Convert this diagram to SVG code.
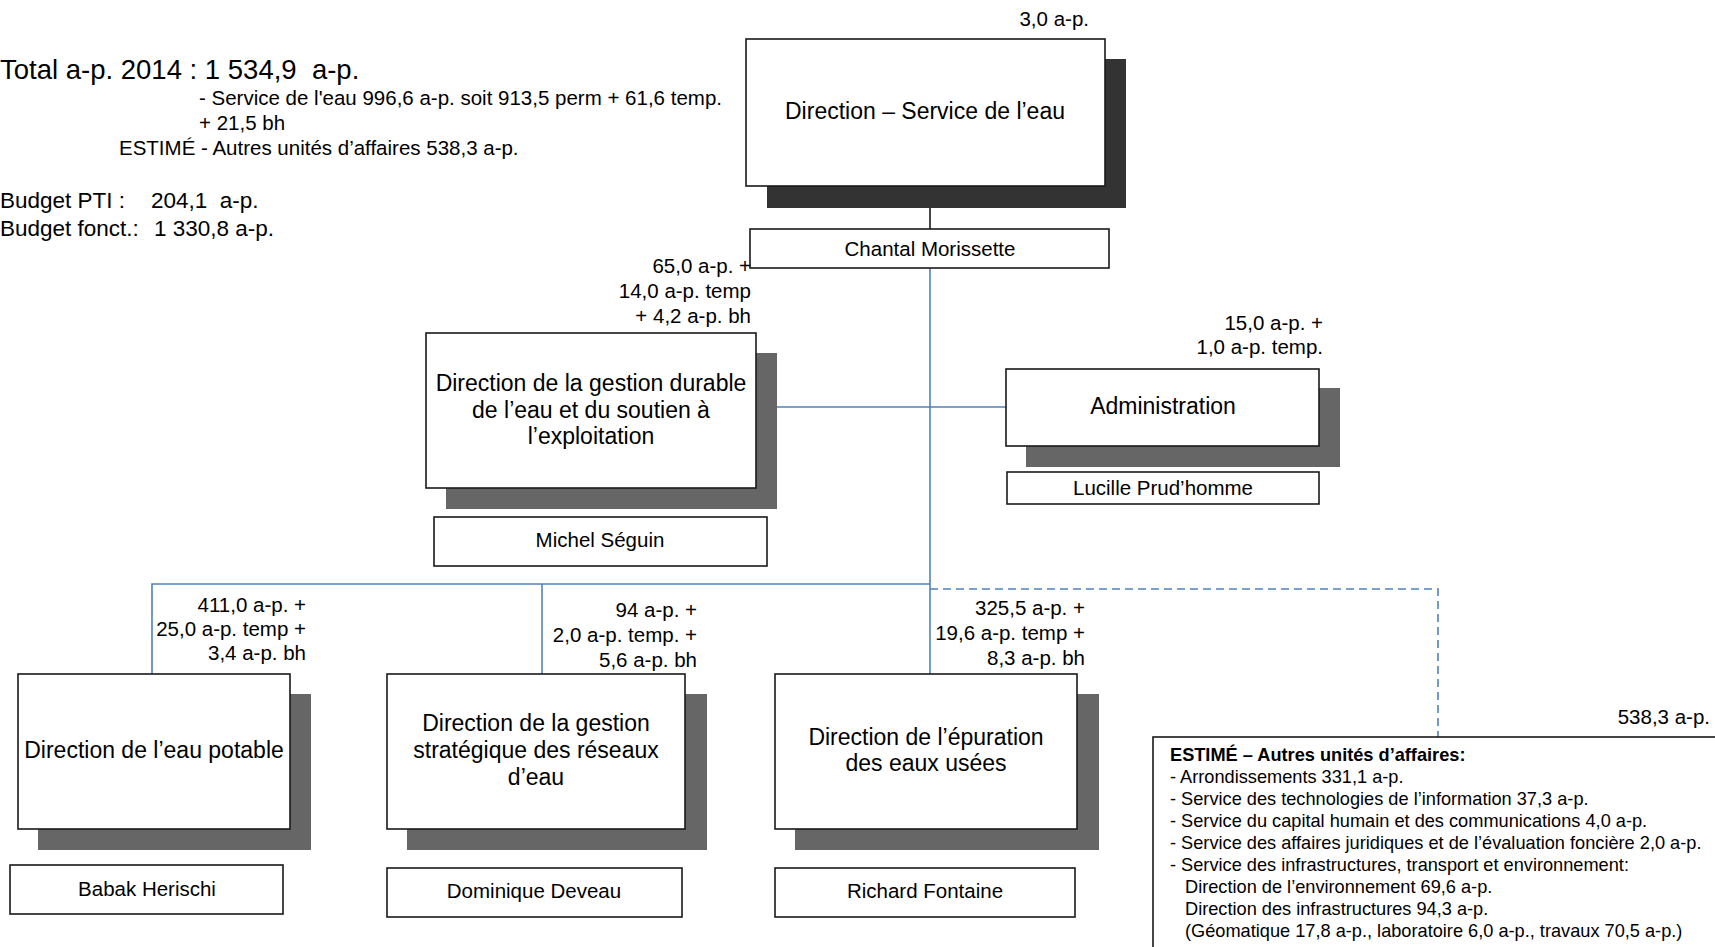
<svg xmlns="http://www.w3.org/2000/svg" width="1715" height="947" viewBox="0 0 1715 947">
<style>
text{font-family:"Liberation Sans",Arial,sans-serif;fill:#000}
.pre{white-space:pre}
.box{fill:#fff;stroke:#1a1a1a;stroke-width:1.6}
.sh{fill:#666}
.shd{fill:#333}
.t{font-size:23px;text-anchor:middle}
.n{font-size:20.5px;text-anchor:middle}
.lb{font-size:20.5px;text-anchor:end}
.s{font-size:20.5px}
.e{font-size:18.2px}
.blue{stroke:#4F81BD;stroke-width:1.6;fill:none}
</style>
<rect width="1715" height="947" fill="#fff"/>
<g id="summary">
<text x="0" y="79" class="pre" style="font-size:27.5px" xml:space="preserve">Total a-p. 2014 : 1 534,9  a-p.</text>
<text x="199" y="105" class="s">- Service de l'eau 996,6 a-p. soit 913,5 perm + 61,6 temp.</text>
<text x="199" y="130" class="s">+ 21,5 bh</text>
<text x="119" y="155" class="s">ESTIMÉ - Autres unités d’affaires 538,3 a-p.</text>
<text x="0" y="208" style="font-size:22.5px">Budget PTI :</text>
<text x="151" y="208" class="pre" style="font-size:22.5px" xml:space="preserve">204,1  a-p.</text>
<text x="0" y="236" style="font-size:22.5px">Budget fonct.:</text>
<text x="154" y="236" style="font-size:22.5px">1 330,8 a-p.</text>
</g>
<g id="connectors">
<line x1="930" y1="208" x2="930" y2="229" stroke="#1a1a1a" stroke-width="1.6"/>
<line class="blue" x1="930" y1="268" x2="930" y2="674"/>
<line class="blue" x1="755" y1="407" x2="1006" y2="407"/>
<polyline class="blue" points="152,674 152,584 930,584"/>
<line class="blue" x1="542" y1="584" x2="542" y2="674"/>
<polyline class="blue" points="930,589 1438,589 1438,737" stroke-dasharray="8 5"/>
</g>
<g id="direction-service-eau">
<text x="1089" y="26" class="lb">3,0 a-p.</text>
<rect class="shd" x="767" y="59" width="359" height="149"/>
<rect class="box" x="746" y="39" width="359" height="147"/>
<text x="925" y="119" class="t">Direction – Service de l’eau</text>
</g>
<g id="chantal">
<rect class="box" x="750" y="229" width="359" height="39"/>
<text x="930" y="256" class="n">Chantal Morissette</text>
</g>
<g id="gestion-durable">
<text x="751" y="273" class="lb">65,0 a-p. +</text>
<text x="751" y="298" class="lb">14,0 a-p. temp</text>
<text x="751" y="323" class="lb">+ 4,2 a-p. bh</text>
<rect class="sh" x="446" y="353" width="331" height="156"/>
<rect class="box" x="426" y="333" width="330" height="155"/>
<text x="591" y="391" class="t">Direction de la gestion durable</text>
<text x="591" y="418" class="t">de l’eau et du soutien à</text>
<text x="591" y="444" class="t">l’exploitation</text>
</g>
<g id="michel">
<rect class="box" x="434" y="517" width="333" height="49"/>
<text x="600" y="547" class="n">Michel Séguin</text>
</g>
<g id="administration">
<text x="1323" y="330" class="lb">15,0 a-p. +</text>
<text x="1323" y="354" class="lb">1,0 a-p. temp.</text>
<rect class="sh" x="1026" y="388" width="314" height="79"/>
<rect class="box" x="1006" y="369" width="313" height="77"/>
<text x="1163" y="414" class="t">Administration</text>
</g>
<g id="lucille">
<rect class="box" x="1007" y="472" width="312" height="32"/>
<text x="1163" y="495" class="n">Lucille Prud’homme</text>
</g>
<g id="eau-potable">
<text x="306" y="612" class="lb">411,0 a-p. +</text>
<text x="306" y="636" class="lb">25,0 a-p. temp +</text>
<text x="306" y="660" class="lb">3,4 a-p. bh</text>
<rect class="sh" x="38" y="694" width="273" height="156"/>
<rect class="box" x="18" y="674" width="272" height="155"/>
<text x="154" y="758" class="t">Direction de l’eau potable</text>
</g>
<g id="babak">
<rect class="box" x="10" y="865" width="273" height="49"/>
<text x="147" y="896" class="n">Babak Herischi</text>
</g>
<g id="gestion-strategique">
<text x="697" y="617" class="lb">94 a-p. +</text>
<text x="697" y="642" class="lb">2,0 a-p. temp. +</text>
<text x="697" y="667" class="lb">5,6 a-p. bh</text>
<rect class="sh" x="407" y="694" width="300" height="156"/>
<rect class="box" x="387" y="674" width="298" height="155"/>
<text x="536" y="731" class="t">Direction de la gestion</text>
<text x="536" y="758" class="t">stratégique des réseaux</text>
<text x="536" y="785" class="t">d’eau</text>
</g>
<g id="dominique">
<rect class="box" x="387" y="868" width="295" height="49"/>
<text x="534" y="898" class="n">Dominique Deveau</text>
</g>
<g id="epuration">
<text x="1085" y="615" class="lb">325,5 a-p. +</text>
<text x="1085" y="640" class="lb">19,6 a-p. temp +</text>
<text x="1085" y="665" class="lb">8,3 a-p. bh</text>
<rect class="sh" x="795" y="694" width="304" height="156"/>
<rect class="box" x="775" y="674" width="302" height="155"/>
<text x="926" y="745" class="t">Direction de l’épuration</text>
<text x="926" y="771" class="t">des eaux usées</text>
</g>
<g id="richard">
<rect class="box" x="775" y="868" width="300" height="49"/>
<text x="925" y="898" class="n">Richard Fontaine</text>
</g>
<g id="autres-unites">
<text x="1710" y="724" class="lb">538,3 a-p.</text>
<rect class="box" x="1153" y="737" width="580" height="230"/>
<text x="1170" y="761" class="e" style="font-weight:bold">ESTIMÉ – Autres unités d’affaires:</text>
<text x="1170" y="783" class="e">- Arrondissements 331,1 a-p.</text>
<text x="1170" y="805" class="e">- Service des technologies de l’information 37,3 a-p.</text>
<text x="1170" y="827" class="e">- Service du capital humain et des communications 4,0 a-p.</text>
<text x="1170" y="849" class="e">- Service des affaires juridiques et de l’évaluation foncière 2,0 a-p.</text>
<text x="1170" y="871" class="e">- Service des infrastructures, transport et environnement:</text>
<text x="1185" y="893" class="e">Direction de l’environnement 69,6 a-p.</text>
<text x="1185" y="915" class="e">Direction des infrastructures 94,3 a-p.</text>
<text x="1185" y="937" class="e">(Géomatique 17,8 a-p., laboratoire 6,0 a-p., travaux 70,5 a-p.)</text>
</g>
</svg>
